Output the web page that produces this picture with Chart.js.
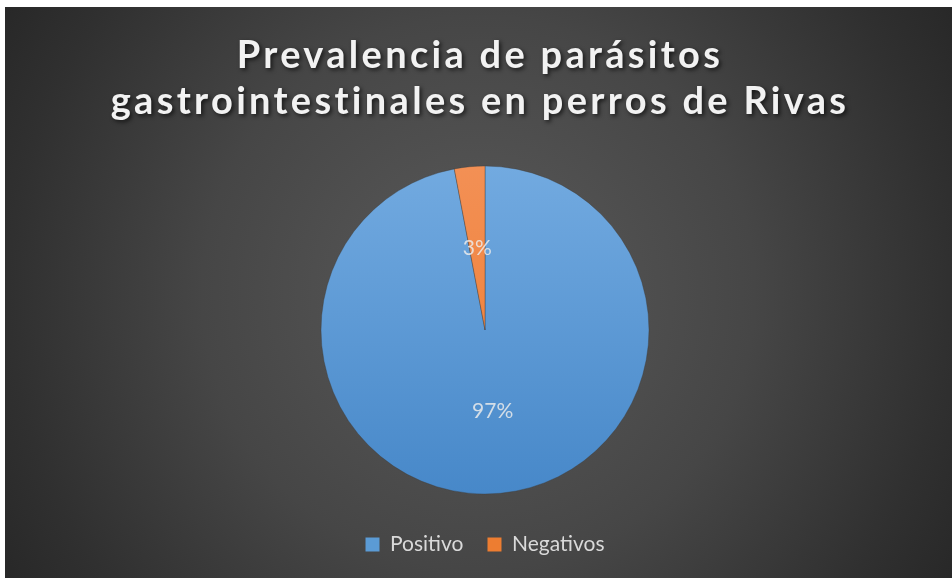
<!DOCTYPE html>
<html>
<head>
<meta charset="utf-8">
<script src="https://cdn.jsdelivr.net/npm/chart.js@4.4.1/dist/chart.umd.min.js"></script>
<style>
  html, body { margin: 0; padding: 0; background: #ffffff; }
  #frame {
    position: absolute; left: 5px; top: 7px; width: 947px; height: 571px;
    background: radial-gradient(circle farthest-corner at 50% 50%, #5a5a5a 0%, #464646 50%, #303030 85%, #282828 100%);
  }
  #chart { display: block; }
</style>
</head>
<body>
<div id="frame"><canvas id="chart" width="947" height="571"></canvas></div>
<script>
  // chart data
  var TITLE_LINES = ['Prevalencia de parásitos', 'gastrointestinales en perros de Rivas'];
  var CATEGORIES = ['Positivo', 'Negativos'];
  var VALUES = [97, 3];
  var COLORS_TOP = ['#72aae0', '#f39055'];
  var COLORS_BOTTOM = ['#4788c9', '#ed7a2c'];
  var LEGEND_COLORS = ['#5b9bd5', '#ed7d31'];

  var FONT = 'Lato, "Open Sans", sans-serif';
  var PIE_RADIUS = 164;

  // vertical gradient fill per slice, spanning the pie's bounding box
  function sliceFill(ctx) {
    var area = ctx.chart.chartArea;
    if (!area || !isFinite(area.top) || !isFinite(area.bottom)) return LEGEND_COLORS[ctx.dataIndex];
    var cy = (area.top + area.bottom) / 2;
    var g = ctx.chart.ctx.createLinearGradient(0, cy - PIE_RADIUS, 0, cy + PIE_RADIUS);
    g.addColorStop(0, COLORS_TOP[ctx.dataIndex]);
    g.addColorStop(1, COLORS_BOTTOM[ctx.dataIndex]);
    return g;
  }

  // title drawn by hand so it can be letter-spaced and shadowed like the original
  var titlePlugin = {
    id: 'spacedTitle',
    afterDraw: function (chart) {
      var c = chart.ctx;
      c.save();
      c.font = 'bold 38px ' + FONT;
      c.letterSpacing = '3.3px';
      c.fillStyle = '#f2f2f2';
      c.textAlign = 'center';
      c.textBaseline = 'alphabetic';
      c.shadowColor = 'rgba(0,0,0,0.65)';
      c.shadowBlur = 4;
      c.shadowOffsetX = 2;
      c.shadowOffsetY = 2;
      var cx = chart.width / 2 + 1.5;
      c.fillText(TITLE_LINES[0], cx, 61);
      c.fillText(TITLE_LINES[1], cx, 107);
      c.restore();
    }
  };

  // percentage labels at each slice's mid-point
  var pctPlugin = {
    id: 'pctLabels',
    afterDatasetsDraw: function (chart) {
      var c = chart.ctx;
      var total = VALUES.reduce(function (a, b) { return a + b; }, 0);
      var meta = chart.getDatasetMeta(0);
      c.save();
      c.font = '21px ' + FONT;
      c.fillStyle = 'rgba(235,235,235,0.85)';
      c.textAlign = 'center';
      c.textBaseline = 'middle';
      meta.data.forEach(function (arc, i) {
        var p = arc.tooltipPosition();
        c.fillText(Math.round(VALUES[i] / total * 100) + '%', p.x, p.y);
      });
      c.restore();
    }
  };

  new Chart(document.getElementById('chart'), {
    type: 'pie',
    data: {
      labels: CATEGORIES,
      datasets: [{
        data: VALUES,
        backgroundColor: sliceFill,
        borderColor: 'rgba(60,60,60,0.5)',
        borderWidth: 0.75,
        radius: PIE_RADIUS
      }]
    },
    options: {
      responsive: false,
      animation: false,
      layout: { padding: { top: 143, left: 13, right: 0, bottom: 13 } },
      plugins: {
        title: { display: false },
        tooltip: { enabled: false },
        legend: {
          position: 'bottom',
          labels: {
            font: { family: FONT, size: 21 },
            color: '#d9d9d9',
            boxWidth: 14,
            boxHeight: 14,
            padding: 24,
            generateLabels: function (chart) {
              return CATEGORIES.map(function (name, i) {
                return { text: name, fillStyle: LEGEND_COLORS[i], strokeStyle: LEGEND_COLORS[i], lineWidth: 0, index: i, fontColor: '#d9d9d9' };
              });
            }
          }
        }
      }
    },
    plugins: [titlePlugin, pctPlugin]
  });
</script>
</body>
</html>
